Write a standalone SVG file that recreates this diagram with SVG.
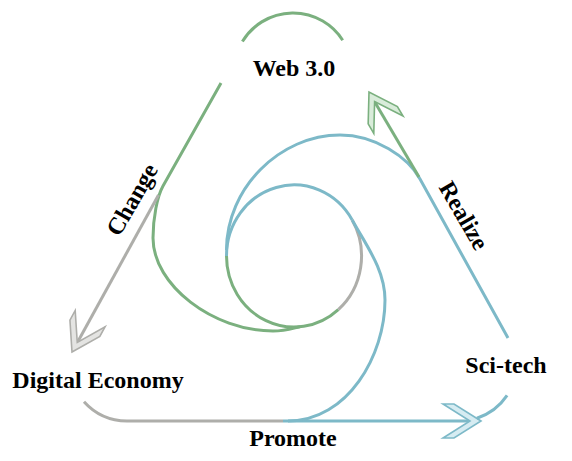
<svg xmlns="http://www.w3.org/2000/svg" xmlns:xlink="http://www.w3.org/1999/xlink" width="572" height="461" viewBox="0 0 572 461">
<style>
.ln{fill:none;stroke-width:3;stroke-linecap:butt}
.g{stroke:#7bb07f}
.b{stroke:#7db9c8}
.k{stroke:#aeaeaa}
.ag{fill:#d9ecda;stroke:#7bb07f;stroke-width:1.6;stroke-linejoin:miter}
.ab{fill:#d6ecf2;stroke:#7db9c8;stroke-width:1.6;stroke-linejoin:miter}
.ak{fill:#e4e4e2;stroke:#aeaeaa;stroke-width:1.6;stroke-linejoin:miter}
.lbl{font-family:"Liberation Serif","Times New Roman",serif;font-weight:bold;font-size:24px;fill:#000;text-anchor:middle}
</style>
<defs>
<path id="chev" d="M0,0 L-27,-17 L-38,-17 L-11,0 L-38,17 L-27,17 Z"/>
</defs>
<rect width="572" height="461" fill="#fff"/>
<g id="connectors">
  <!-- inner circle -->
  <path class="ln b" d="M352.2,220 A67.5,71 0 0 0 226.5,256"/>
  <path class="ln g" d="M226.5,256 A67.5,71 0 0 0 338.3,309.6"/>
  <path class="ln k" d="M338.3,309.6 A67.5,71 0 0 0 352.2,220"/>
  <!-- left edge + green swoop -->
  <path class="ln g" d="M221,83 L163,186 C157.2,196.5 153,218 153,238 C153,285 213,331 273,331 C285,331 292,328.5 300,326.7"/>
  <path class="ln k" d="M158.5,195 L76,345"/>
  <use xlink:href="#chev" class="ak" transform="translate(72,352) rotate(118.5)"/>
  <!-- bottom edge + blue swoop -->
  <path class="ln b" d="M283,421 L473,421"/>
  <path class="ln b" d="M288,421 C348,421 385,355 385,300 C385,270 366.7,246.2 352.2,220"/>
  <use xlink:href="#chev" class="ab" transform="translate(481,421)"/>
  <!-- right edge + blue swoop -->
  <path class="ln b" d="M508,338 L420,179 C408,157 375,135 340,135 C280,135 226.5,188 226.5,250"/>
  <path class="ln g" d="M419,177 L373,99"/>
  <use xlink:href="#chev" class="ag" transform="translate(369,92) rotate(-120.7)"/>
  <text class="lbl" transform="translate(139,203.5) rotate(-60)">Change</text>
  <text class="lbl" transform="translate(457,219.5) rotate(60)">Realize</text>
  <text class="lbl" x="293" y="446">Promote</text>
</g>
<g id="node-web3">
  <path class="ln g" d="M242.4,41.6 A59,59 0 0 1 342.7,40.2"/>
  <text class="lbl" x="294" y="76">Web 3.0</text>
</g>
<g id="node-digital-economy">
  <path class="ln k" d="M84,401.8 A58,58 0 0 0 127,421 L283,421"/>
  <text class="lbl" x="98" y="388">Digital Economy</text>
</g>
<g id="node-scitech">
  <path class="ln b" d="M507.1,395.4 A58,58 0 0 1 476.9,418.2"/>
  <text class="lbl" x="506" y="373">Sci-tech</text>
</g>
</svg>
